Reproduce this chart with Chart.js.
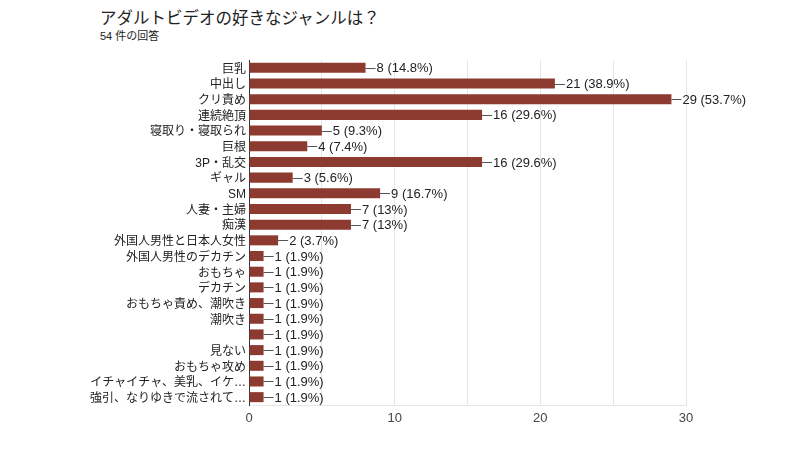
<!DOCTYPE html>
<html>
<head>
<meta charset="utf-8">
<script src="https://cdn.jsdelivr.net/npm/chart.js@4"></script>
<style>
  html, body { margin: 0; padding: 0; background: #fff; }
  #wrap { position: relative; width: 800px; height: 449px; font-family: "Liberation Sans", "Noto Sans CJK JP", sans-serif; }
  #title { position: absolute; left: 100px; top: 5px; font-size: 16.5px; color: #222; }
  #sub { position: absolute; left: 100px; top: 27px; font-size: 11px; color: #222; }
  canvas { position: absolute; left: 0; top: 0; }
</style>
</head>
<body>
<div id="wrap">
  <div id="title">アダルトビデオの好きなジャンルは？</div>
  <div id="sub">54 件の回答</div>
  <canvas id="genreChart" width="800" height="449"></canvas>
</div>
<script>
/* ============================================================
   DATA
   ============================================================ */
const totalAnswers = 54;

const genres = [
    "巨乳", "中出し", "クリ責め", "連続絶頂", "寝取り・寝取られ", "巨根",
    "3P・乱交", "ギャル", "SM", "人妻・主婦", "痴漢", "外国人男性と日本人女性",
    "外国人男性のデカチン", "おもちゃ", "デカチン", "おもちゃ責め、潮吹き",
    "潮吹き", "", "見ない", "おもちゃ攻め", "イチャイチャ、美乳、イケ…",
    "強引、なりゆきで流されて…"
];

const counts = [8, 21, 29, 16, 5, 4, 16, 3, 9, 7, 7, 2, 1, 1, 1, 1, 1, 1, 1, 1, 1, 1];

const xTicks = [0, 10, 20, 30];

/* ============================================================
   VALUE LABELS  ( —8 (14.8%) )
   ============================================================ */
const valueLabels = {
    id: "valueLabels",
    afterDatasetsDraw(chart) {
        const ctx = chart.ctx;
        const meta = chart.getDatasetMeta(0);
        ctx.save();
        ctx.font = "13px 'Liberation Sans', 'Noto Sans CJK JP', sans-serif";
        ctx.textBaseline = "middle";
        meta.data.forEach((bar, i) => {
            const v = counts[i];
            const pct = Math.round(v / totalAnswers * 1000) / 10;
            ctx.strokeStyle = "#555";
            ctx.lineWidth = 1;
            ctx.beginPath();
            ctx.moveTo(bar.x, Math.round(bar.y) + 0.5);
            ctx.lineTo(bar.x + 10, Math.round(bar.y) + 0.5);
            ctx.stroke();
            ctx.fillStyle = "#222";
            ctx.fillText(v + " (" + pct + "%)", bar.x + 11, bar.y + 1);
        });
        ctx.restore();
    }
};

/* ============================================================
   DRAW CHART
   ============================================================ */
new Chart(document.getElementById("genreChart"), {
    type: "bar",
    data: {
        labels: genres,
        datasets: [{
            data: counts,
            backgroundColor: "#8d3a31",
            barPercentage: 0.64,
            categoryPercentage: 1
        }]
    },
    options: {
        indexAxis: "y",
        responsive: false,
        animation: false,
        layout: { padding: { top: 60, right: 114, bottom: 0, left: 0 } },
        plugins: {
            legend: { display: false },
            tooltip: { enabled: false }
        },
        scales: {
            x: {
                min: 0,
                max: 30,
                ticks: {
                    stepSize: 5,
                    color: "#444",
                    font: { size: 13, family: "'Liberation Sans', sans-serif" },
                    padding: 6,
                    callback: v => xTicks.includes(v) ? v : ""
                },
                grid: { color: "#e6e6e6", drawTicks: false },
                border: { display: true, color: "#e6e6e6" },
                afterFit: scale => { scale.height = 44; }
            },
            y: {
                ticks: {
                    color: "#222",
                    font: { size: 12, family: "'Liberation Sans', 'Noto Sans CJK JP', sans-serif" },
                    padding: 3,
                    labelOffset: 1.5,
                    autoSkip: false
                },
                grid: { display: false, drawTicks: false },
                border: { color: "#333", width: 1 },
                afterFit: scale => { scale.width = 249; }
            }
        }
    },
    plugins: [valueLabels]
});
</script>
</body>
</html>
